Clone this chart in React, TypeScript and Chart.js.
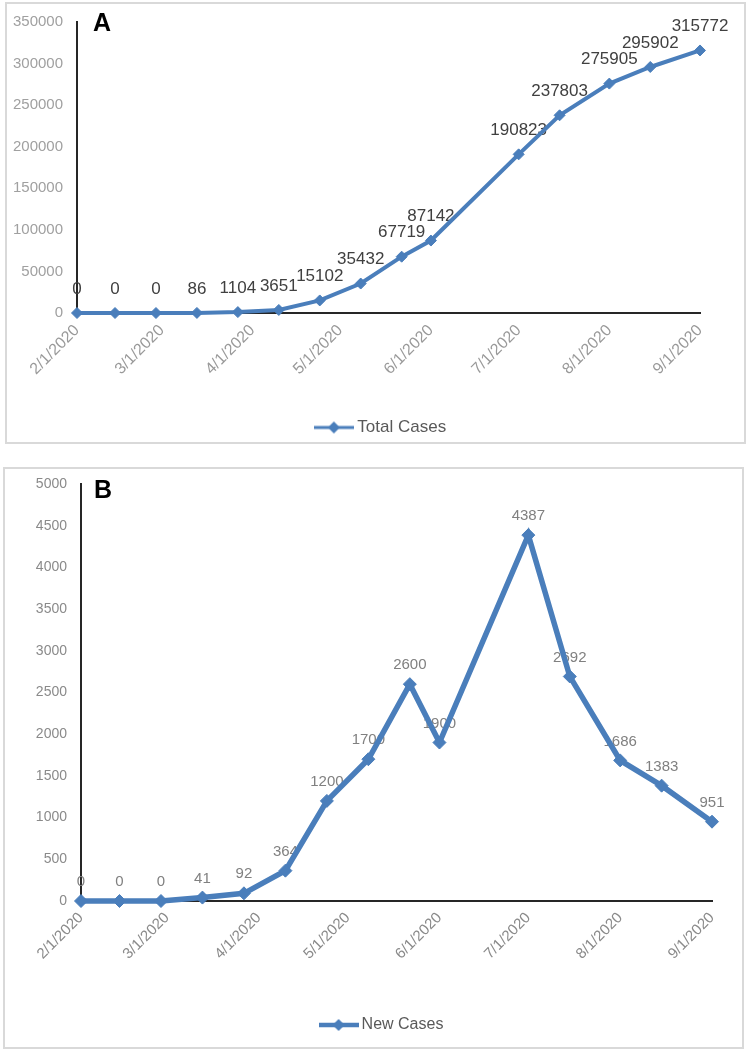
import React, { useEffect, useRef } from "react";
import { Chart, registerables } from "chart.js";

Chart.register(...registerables);

// ---------------- data ----------------
const pointDates = [
  "2/1/2020", "2/14/2020", "2/28/2020", "3/13/2020", "3/27/2020",
  "4/10/2020", "4/24/2020", "5/8/2020", "5/22/2020", "6/1/2020",
  "7/1/2020", "7/15/2020", "8/1/2020", "8/15/2020", "9/1/2020",
];
const totalCases = [0, 0, 0, 86, 1104, 3651, 15102, 35432, 67719, 87142, 190823, 237803, 275905, 295902, 315772];
const newCases = [0, 0, 0, 41, 92, 364, 1200, 1700, 2600, 1900, 4387, 2692, 1686, 1383, 951];
const dateTickLabels = ["2/1/2020", "3/1/2020", "4/1/2020", "5/1/2020", "6/1/2020", "7/1/2020", "8/1/2020", "9/1/2020"];
const totalTicks = [0, 50000, 100000, 150000, 200000, 250000, 300000, 350000];
const newTicks = [0, 500, 1000, 1500, 2000, 2500, 3000, 3500, 4000, 4500, 5000];

const FONT = "'Liberation Sans', Arial, Helvetica, sans-serif";
const LINE_COLOR = "#4a7ebb";

function dayOf(s: string): number {
  const [m, d, y] = s.split("/").map(Number);
  return Math.round((Date.UTC(y, m - 1, d) - Date.UTC(2020, 1, 1)) / 86400000);
}
const tickDays = dateTickLabels.map(dayOf);
const pointDays = pointDates.map(dayOf);

function legendImage(lineW: number, r: number): HTMLCanvasElement {
  const c = document.createElement("canvas");
  c.width = 40;
  c.height = 16;
  const g = c.getContext("2d")!;
  g.strokeStyle = LINE_COLOR;
  g.lineWidth = lineW;
  g.beginPath();
  g.moveTo(0, 8);
  g.lineTo(40, 8);
  g.stroke();
  g.fillStyle = LINE_COLOR;
  g.beginPath();
  g.moveTo(20 - r, 8);
  g.lineTo(20, 8 - r);
  g.lineTo(20 + r, 8);
  g.lineTo(20, 8 + r);
  g.closePath();
  g.fill();
  return c;
}

const valueLabels = {
  id: "valueLabels",
  beforeDatasetsDraw(chart: any, _a: any, opts: any) {
    const ctx = chart.ctx;
    const meta = chart.getDatasetMeta(0);
    const ds = chart.data.datasets[0].data;
    ctx.save();
    ctx.font = `${opts.size}px ${FONT}`;
    ctx.fillStyle = opts.color;
    ctx.textAlign = "center";
    ctx.textBaseline = "middle";
    meta.data.forEach((pt: any, i: number) => {
      ctx.fillText(String(ds[i].y), pt.x, pt.y - opts.offset);
    });
    ctx.restore();
  },
};

const panelLetter = {
  id: "panelLetter",
  afterLayout(chart: any, _a: any, opts: any) {
    if (chart.legend && opts.legendLeft != null) {
      chart.legend.left = opts.legendLeft;
    }
  },
  afterDraw(chart: any, _a: any, opts: any) {
    const ctx = chart.ctx;
    ctx.save();
    ctx.font = `bold ${opts.size}px ${FONT}`;
    ctx.fillStyle = "#000";
    ctx.textAlign = "left";
    ctx.textBaseline = "alphabetic";
    ctx.fillText(opts.text, opts.x, opts.y);
    ctx.restore();
  },
};

type Spec = {
  label: string;
  values: number[];
  yTicks: number[];
  pad: { left: number; right: number; top: number; bottom: number };
  yWidth: number;
  xHeight: number;
  legendLeft: number;
  yFont: number;
  xFont: number;
  legendFont: number;
  labelFont: number;
  labelColor: string;
  labelOffset: number;
  yColor: string;
  xColor: string;
  lineWidth: number;
  pointRadius: number;
  letter: string;
  letterX: number;
  letterY: number;
};

function makeConfig(s: Spec): any {
  return {
    type: "line",
    data: {
      datasets: [
        {
          label: s.label,
          data: pointDays.map((d, i) => ({ x: d, y: s.values[i] })),
          borderColor: LINE_COLOR,
          backgroundColor: LINE_COLOR,
          borderWidth: s.lineWidth,
          pointStyle: "rectRot",
          pointRadius: s.pointRadius,
          pointBorderWidth: 1,
          pointBackgroundColor: LINE_COLOR,
          pointBorderColor: LINE_COLOR,
          tension: 0,
          clip: false,
        },
      ],
    },
    plugins: [valueLabels, panelLetter],
    options: {
      responsive: false,
      animation: false,
      devicePixelRatio: 1,
      layout: { padding: s.pad },
      scales: {
        x: {
          type: "linear",
          min: tickDays[0],
          max: tickDays[tickDays.length - 1],
          grid: { display: false, drawTicks: false },
          border: { display: true, color: "#262626", width: 2 },
          afterBuildTicks: (sc: any) => {
            sc.ticks = tickDays.map((v) => ({ value: v }));
          },
          afterFit: (sc: any) => {
            sc.height = s.xHeight;
            sc.paddingLeft = 0;
            sc.paddingRight = 0;
          },
          ticks: {
            autoSkip: false,
            minRotation: 45,
            maxRotation: 45,
            padding: 8,
            color: s.xColor,
            font: { family: FONT, size: s.xFont },
            callback: (v: number) => dateTickLabels[tickDays.indexOf(v)] ?? "",
          },
        },
        y: {
          type: "linear",
          min: s.yTicks[0],
          max: s.yTicks[s.yTicks.length - 1],
          grid: { display: false, drawTicks: false },
          border: { display: true, color: "#262626", width: 2 },
          afterBuildTicks: (sc: any) => {
            sc.ticks = s.yTicks.map((v) => ({ value: v }));
          },
          afterFit: (sc: any) => {
            sc.width = s.yWidth;
            sc.paddingTop = 0;
            sc.paddingBottom = 0;
          },
          ticks: {
            padding: 14,
            color: s.yColor,
            font: { family: FONT, size: s.yFont },
            callback: (v: number) => String(v),
          },
        },
      },
      plugins: {
        tooltip: { enabled: false },
        legend: {
          position: "bottom",
          labels: {
            usePointStyle: true,
            pointStyle: legendImage(s.lineWidth * 0.8, 6),
            pointStyleWidth: 30,
            padding: 10,
            color: "#595959",
            font: { family: FONT, size: s.legendFont },
          },
        },
        valueLabels: { size: s.labelFont, color: s.labelColor, offset: s.labelOffset },
        panelLetter: { text: s.letter, x: s.letterX, y: s.letterY, size: 25, legendLeft: s.legendLeft },
      },
    },
  };
}

const specA: Spec = {
  label: "Total Cases",
  values: totalCases,
  yTicks: totalTicks,
  pad: { left: 0, right: 44, top: 18, bottom: 0 },
  yWidth: 71,
  xHeight: 96,
  legendLeft: 59,
  yFont: 15,
  xFont: 16,
  legendFont: 17,
  labelFont: 17,
  labelColor: "#404040",
  labelOffset: 24,
  yColor: "#a0a0a0",
  xColor: "#999999",
  lineWidth: 4,
  pointRadius: 5.5,
  letter: "A",
  letterX: 87,
  letterY: 27,
};

const specB: Spec = {
  label: "New Cases",
  values: newCases,
  yTicks: newTicks,
  pad: { left: 0, right: 32, top: 14, bottom: 0 },
  yWidth: 75,
  xHeight: 106,
  legendLeft: 49,
  yFont: 14,
  xFont: 15,
  legendFont: 16,
  labelFont: 15,
  labelColor: "#808080",
  labelOffset: 19,
  yColor: "#8a8a8a",
  xColor: "#8a8a8a",
  lineWidth: 5.5,
  pointRadius: 6.5,
  letter: "B",
  letterX: 88,
  letterY: 28,
};

function ChartCanvas({ spec, left, top, width, height }: { spec: Spec; left: number; top: number; width: number; height: number }) {
  const ref = useRef<HTMLCanvasElement>(null);
  useEffect(() => {
    if (!ref.current) return;
    const chart = new Chart(ref.current, makeConfig(spec));
    return () => chart.destroy();
  }, [spec]);
  return (
    <canvas
      ref={ref}
      width={width}
      height={height}
      style={{ position: "absolute", left, top, width, height }}
    />
  );
}

export default function App() {
  const box = (left: number, top: number, width: number, height: number) => ({
    position: "absolute" as const,
    left,
    top,
    width,
    height,
    border: "2px solid #d9d9d9",
    boxSizing: "border-box" as const,
  });
  return (
    <div style={{ position: "absolute", left: 0, top: 0, width: 751, height: 1057, background: "#fff" }}>
      <div style={box(5, 2, 741, 442)} />
      <div style={box(3, 467, 741, 582)} />
      <ChartCanvas spec={specA} left={6} top={4} width={738} height={442} />
      <ChartCanvas spec={specB} left={6} top={470} width={738} height={573} />
    </div>
  );
}
